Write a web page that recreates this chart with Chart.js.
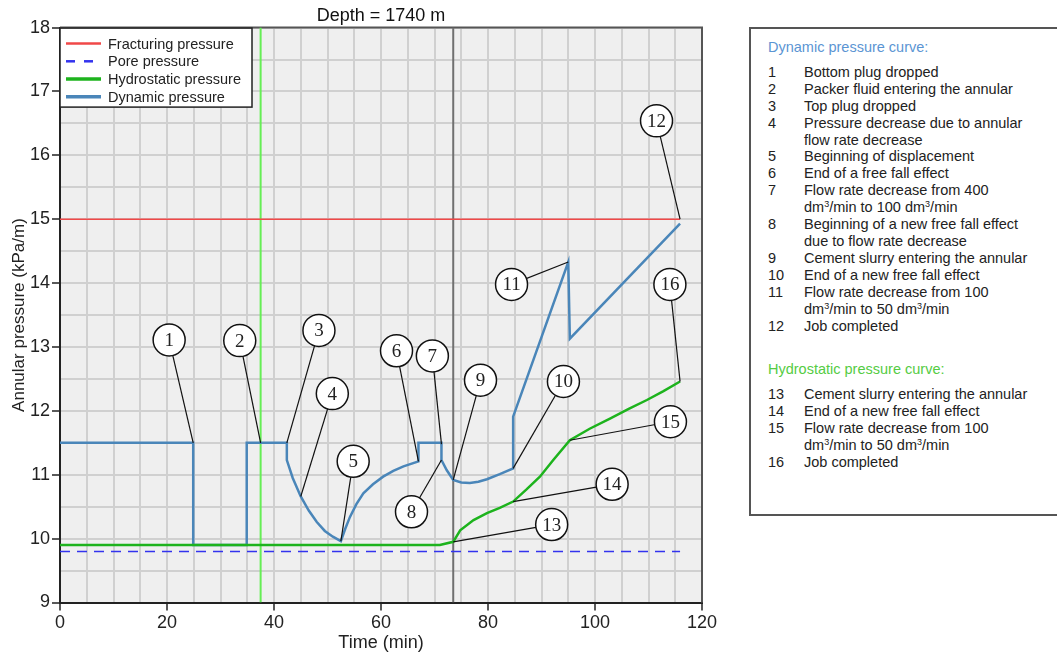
<!DOCTYPE html>
<html>
<head>
<meta charset="utf-8">
<script src="https://cdn.jsdelivr.net/npm/chart.js@4.4.1/dist/chart.umd.min.js"></script>
<style>
body { margin: 0; background: #fff; font-family: "Liberation Sans", Arial, sans-serif; }
#wrap { position: absolute; left: 0; top: 0; width: 720px; height: 660px; }
#notes { position: absolute; left: 749px; top: 27px; width: 330px; height: 489px; border: 2px solid #555; box-sizing: border-box; padding: 10px 0 0 17px; font-size: 14.5px; line-height: 16.9px; color: #222; }
#notes .head { margin-bottom: 8px; }
#notes .row { display: flex; white-space: nowrap; }
#notes .n { width: 36px; flex: none; }
#notes sup { font-size: 9px; line-height: 0; vertical-align: 5px; }
</style>
</head>
<body>
<div id="wrap"><canvas id="chart"></canvas></div>
<div id="notes"></div>
<script>
const fontFam = '"Liberation Sans", Arial, sans-serif'

// dynamic pressure curve
const dynTime = [0, 24.9, 24.9, 34.9, 34.9, 42.4, 42.4, 43.5, 45.0, 46.5, 48.0, 49.5, 51.0, 52.5,
    53.3, 54.2, 55.4, 56.7, 58.5, 60.4, 62.3, 64.2, 67.0, 67.0, 71.3, 71.3, 72.3, 73.5,
    75.0, 76.6, 78.2, 79.8, 82.2, 84.7, 84.7, 95.0, 95.3, 115.9]
const dynPressure = [11.5, 11.5, 9.9, 9.9, 11.5, 11.5, 11.23, 10.95, 10.66, 10.44, 10.26, 10.12, 10.03, 9.96,
    10.15, 10.34, 10.54, 10.71, 10.85, 10.97, 11.06, 11.13, 11.21, 11.5, 11.5, 11.23, 11.07, 10.92,
    10.88, 10.87, 10.89, 10.93, 11.01, 11.10, 11.91, 14.33, 13.13, 14.93]

// hydrostatic pressure curve
const hydTime = [0, 71.0, 73.5, 74.8, 77.3, 79.8, 82.2, 84.7, 87.2, 89.7, 92.2, 95.3, 99.0, 102.8, 106.3, 109.7, 112.8, 115.9]
const hydPressure = [9.9, 9.9, 9.95, 10.13, 10.29, 10.40, 10.48, 10.58, 10.77, 10.97, 11.23, 11.54, 11.72, 11.88, 12.03, 12.17, 12.31, 12.46]

const fracTime = [0, 115.9]
const fracPressure = [15, 15]
const poreTime = [0, 115.9]
const porePressure = [9.8, 9.8]

// vertical marker lines (min)
const markerTimes = [37.5, 73.5]

// numbered call-outs: circle position and the point it points at
const noteLabel = ['1', '2', '3', '4', '5', '6', '7', '8', '9', '10', '11', '12', '13', '14', '15', '16']
const noteTime = [20.4, 33.6, 48.4, 50.9, 54.8, 62.9, 69.6, 65.7, 78.6, 94.1, 84.4, 111.5, 91.9, 103.2, 114.1, 114.0]
const notePressure = [13.11, 13.10, 13.26, 12.27, 11.21, 12.94, 12.86, 10.42, 12.48, 12.46, 13.98, 16.54, 10.22, 10.85, 11.83, 13.98]
const targetTime = [24.9, 37.5, 42.4, 45.0, 52.5, 67.0, 71.3, 71.3, 73.5, 84.7, 95.0, 115.9, 73.5, 84.7, 95.3, 115.9]
const targetPressure = [11.5, 11.5, 11.5, 10.66, 9.96, 11.21, 11.48, 11.23, 10.92, 11.10, 14.33, 15.0, 9.95, 10.58, 11.54, 12.46]

const dynamicNotes = ['Bottom plug dropped', 'Packer fluid entering the annular', 'Top plug dropped',
    'Pressure decrease due to annular<br>flow rate decrease', 'Beginning of displacement', 'End of a free fall effect',
    'Flow rate decrease from 400<br>dm<sup>3</sup>/min to 100 dm<sup>3</sup>/min',
    'Beginning of a new free fall effect<br>due to flow rate decrease', 'Cement slurry entering the annular',
    'End of a new free fall effect', 'Flow rate decrease from 100<br>dm<sup>3</sup>/min to 50 dm<sup>3</sup>/min', 'Job completed']
const hydroNotes = ['Cement slurry entering the annular', 'End of a new free fall effect',
    'Flow rate decrease from 100<br>dm<sup>3</sup>/min to 50 dm<sup>3</sup>/min', 'Job completed']

let html = '<div class="head" style="color:#5b95d3">Dynamic pressure curve:</div>'
dynamicNotes.forEach((t, i) => { html += '<div class="row"><span class="n">' + (i + 1) + '</span><span>' + t + '</span></div>' })
html += '<div class="head" style="color:#55cc44;margin-top:27px">Hydrostatic pressure curve:</div>'
hydroNotes.forEach((t, i) => { html += '<div class="row"><span class="n">' + (i + 13) + '</span><span>' + t + '</span></div>' })
document.getElementById('notes').innerHTML = html

const pts = (xs, ys) => xs.map((t, i) => ({x: t, y: ys[i]}))

const plotBg = {
    id: 'plotBg',
    beforeDraw(chart) {
        const {ctx, chartArea: a} = chart
        ctx.save()
        ctx.fillStyle = '#efefef'
        ctx.fillRect(a.left, a.top, a.right - a.left, a.bottom - a.top)
        ctx.restore()
    },
    beforeDatasetsDraw(chart) {
        const {ctx, chartArea: a} = chart
        ctx.save()
        ctx.strokeStyle = '#555'
        ctx.lineWidth = 2
        ctx.beginPath()
        ctx.moveTo(a.left, a.top)
        ctx.lineTo(a.right, a.top)
        ctx.lineTo(a.right, a.bottom)
        ctx.stroke()
        ctx.restore()
    }
}

const callouts = {
    id: 'callouts',
    afterDatasetsDraw(chart) {
        const {ctx, scales: {x, y}} = chart
        ctx.save()
        noteLabel.forEach((n, i) => {
            const cx = x.getPixelForValue(noteTime[i])
            const cy = y.getPixelForValue(notePressure[i])
            ctx.beginPath()
            ctx.moveTo(cx, cy)
            ctx.lineTo(x.getPixelForValue(targetTime[i]), y.getPixelForValue(targetPressure[i]))
            ctx.strokeStyle = '#111'
            ctx.lineWidth = 1.2
            ctx.stroke()
            ctx.beginPath()
            ctx.arc(cx, cy, 16, 0, Math.PI * 2)
            ctx.fillStyle = '#fff'
            ctx.fill()
            ctx.lineWidth = 1.5
            ctx.stroke()
            ctx.fillStyle = '#222'
            ctx.font = '19px "Liberation Serif", serif'
            ctx.textAlign = 'center'
            ctx.textBaseline = 'middle'
            ctx.fillText(n, cx, cy + 1)
        })
        ctx.restore()
    }
}

const legendBox = {
    id: 'legendBox',
    afterDraw(chart) {
        const {ctx, chartArea: a} = chart
        const x0 = a.left, y0 = a.top + 0.5
        ctx.save()
        ctx.fillStyle = '#fff'
        ctx.fillRect(x0, y0, 192, 79)
        ctx.strokeStyle = '#222'
        ctx.lineWidth = 1.5
        ctx.strokeRect(x0, y0, 192, 79)
        chart.data.datasets.filter(d => d.label).forEach((d, i) => {
            const ly = y0 + 15.5 + i * 17.7
            ctx.beginPath()
            ctx.setLineDash(d.borderDash ? [9, 9] : [])
            ctx.strokeStyle = d.borderColor
            ctx.lineWidth = d.borderWidth + 1
            ctx.moveTo(x0 + 6, ly)
            ctx.lineTo(x0 + 41, ly)
            ctx.stroke()
            ctx.setLineDash([])
            ctx.fillStyle = '#222'
            ctx.font = '14.5px ' + fontFam
            ctx.textBaseline = 'middle'
            ctx.fillText(d.label, x0 + 48, ly + 1)
        })
        ctx.restore()
    }
}

new Chart(document.getElementById('chart'), {
    type: 'line',
    data: {
        datasets: [
            {label: 'Fracturing pressure', data: pts(fracTime, fracPressure), borderColor: '#f04848', borderWidth: 1.5, pointRadius: 0},
            {label: 'Pore pressure', data: pts(poreTime, porePressure), borderColor: '#3333ee', borderWidth: 1.5, borderDash: [10, 7], pointRadius: 0},
            {label: 'Hydrostatic pressure', data: pts(hydTime, hydPressure), borderColor: '#1db31d', borderWidth: 2.5, pointRadius: 0},
            {label: 'Dynamic pressure', data: pts(dynTime, dynPressure), borderColor: '#4a86b9', borderWidth: 2.5, pointRadius: 0},
            {data: pts([markerTimes[0], markerTimes[0]], [9, 18]), borderColor: '#66ee55', borderWidth: 2, pointRadius: 0, order: 5},
            {data: pts([markerTimes[1], markerTimes[1]], [9, 18]), borderColor: '#707070', borderWidth: 2, pointRadius: 0, order: 5}
        ]
    },
    options: {
        responsive: true,
        maintainAspectRatio: false,
        animation: false,
        layout: { padding: { right: 18 } },
        plugins: {
            legend: { display: false },
            tooltip: { enabled: false },
            title: {
                display: true,
                text: 'Depth = 1740 m',
                fullSize: false,
                color: '#111',
                font: { size: 18, weight: 'normal', family: fontFam },
                padding: { top: 5, bottom: 1 }
            }
        },
        scales: {
            x: {
                type: 'linear',
                min: 0,
                max: 120,
                afterFit: s => { s.height = 57.5 },
                border: { color: '#222', width: 2 },
                grid: {
                    color: '#d0d0d0',
                    lineWidth: 2,
                    tickLength: 8,
                    tickWidth: 1.5,
                    tickColor: c => (c.tick && c.tick.value % 20 === 0) ? '#222' : 'rgba(0,0,0,0)'
                },
                ticks: {
                    stepSize: 5,
                    autoSkip: false,
                    maxRotation: 0,
                    padding: 2,
                    color: '#222',
                    font: { size: 18, family: fontFam },
                    callback: v => v % 20 === 0 ? v : ''
                },
                title: {
                    display: true,
                    text: 'Time (min)',
                    color: '#222',
                    font: { size: 18, family: fontFam },
                    padding: { top: 0, bottom: 6 }
                }
            },
            y: {
                min: 9,
                max: 18,
                afterFit: s => { s.width = 60 },
                border: { color: '#222', width: 2 },
                grid: {
                    color: '#d0d0d0',
                    lineWidth: 2,
                    tickLength: 8,
                    tickWidth: 1.5,
                    tickColor: c => (c.tick && Number.isInteger(c.tick.value)) ? '#222' : 'rgba(0,0,0,0)'
                },
                ticks: {
                    stepSize: 0.5,
                    padding: 2,
                    color: '#222',
                    font: { size: 18, family: fontFam },
                    callback: v => Number.isInteger(v) ? v : ''
                },
                title: {
                    display: true,
                    text: 'Annular pressure (kPa/m)',
                    color: '#222',
                    font: { size: 17, family: fontFam },
                    padding: { top: 9, bottom: 0 }
                }
            }
        }
    },
    plugins: [plotBg, callouts, legendBox]
})
</script>
</body>
</html>
